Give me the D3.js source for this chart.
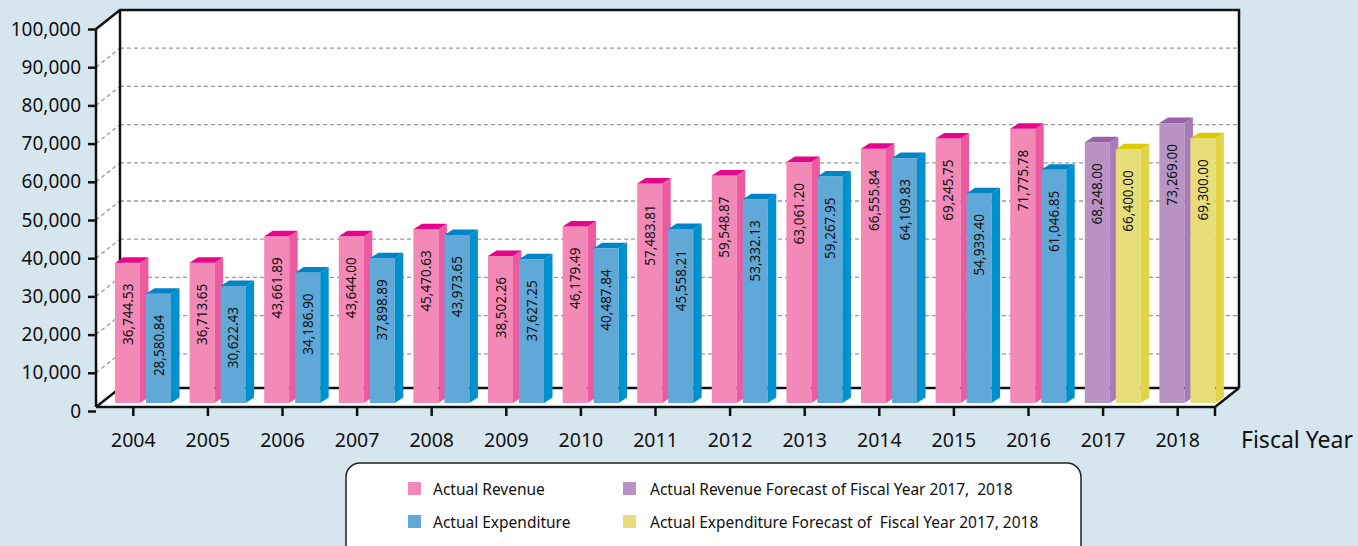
<!DOCTYPE html>
<html>
<head>
<meta charset="utf-8">
<script src="https://cdn.jsdelivr.net/npm/d3@7"></script>
<style>
  body { margin: 0; background: #d5e6ef; }
  svg text { font-family: "Noto Sans", sans-serif; fill: #111; }
</style>
</head>
<body>
<svg width="1358" height="546"></svg>
<script>
const years = ["2004", "2005", "2006", "2007", "2008", "2009", "2010", "2011",
  "2012", "2013", "2014", "2015", "2016", "2017", "2018"];
const revenue = [36744.53, 36713.65, 43661.89, 43644.00, 45470.63, 38502.26, 46179.49,
  57483.81, 59548.87, 63061.20, 66555.84, 69245.75, 71775.78, 68248.00, 73269.00];
const expenditure = [28580.84, 30622.43, 34186.90, 37898.89, 43973.65, 37627.25, 40487.84,
  45558.21, 53332.13, 59267.95, 64109.83, 54939.40, 61046.85, 66400.00, 69300.00];
const forecastYears = ["2017", "2018"];
const yTicks = [0, 10000, 20000, 30000, 40000, 50000, 60000, 70000, 80000, 90000, 100000];
const legendLabels = [
  "Actual Revenue",
  "Actual Expenditure",
  "Actual Revenue Forecast of Fiscal Year 2017,  2018",
  "Actual Expenditure Forecast of  Fiscal Year 2017, 2018"
];

// front face colour, side colour, top colour
const colors = {
  revenue: ["#f289b7", "#ec5a9f", "#e6058a"],
  expenditure: ["#60a8d8", "#0091cd", "#0084c6"],
  revForecast: ["#b893c4", "#a77bb8", "#9a62a7"],
  expForecast: ["#e8de79", "#e2d446", "#dccb00"]
};

const svg = d3.select("svg");

const left = 96, right = 1215;
const depthX = 24, depthY = -19;   // depth of the 3d box
const barW = 25, barDX = 8.5, barDY = -5.5, barLift = 8;

const x = d3.scaleBand().domain(years).range([left, right]);
const y = d3.scaleLinear().domain([0, 100000]).range([411, 29]);
const floorY = y(0) - 4;
const topY = y(100000);

// walls and floor
svg.append("polygon")
  .attr("points", [[left, topY], [left + depthX, topY + depthY], [left + depthX, floorY + depthY],
    [left, floorY]].join(" "))
  .attr("fill", "#fff");
svg.append("rect")
  .attr("x", left + depthX).attr("y", topY + depthY)
  .attr("width", right - left).attr("height", floorY - topY)
  .attr("fill", "#fff");
svg.append("polygon")
  .attr("points", [[left, floorY], [left + depthX, floorY + depthY], [right + depthX, floorY + depthY],
    [right, floorY]].join(" "))
  .attr("fill", "#fff");

// gridlines
const grid = svg.append("g")
  .attr("stroke", "#999")
  .attr("stroke-width", 1.3)
  .attr("stroke-dasharray", "4,3");
yTicks.filter(d => d > 0 && d < 100000).forEach(d => {
  grid.append("line")
    .attr("x1", left).attr("y1", y(d))
    .attr("x2", left + depthX).attr("y2", y(d) + depthY);
  grid.append("line")
    .attr("x1", left + depthX).attr("y1", y(d) + depthY)
    .attr("x2", right + depthX).attr("y2", y(d) + depthY);
});

// box outline
const frame = svg.append("g")
  .attr("stroke", "#111")
  .attr("stroke-width", 2.5)
  .attr("fill", "none");
frame.append("polyline")
  .attr("points", [[left, topY], [left + depthX, topY + depthY], [right + depthX, topY + depthY],
    [right + depthX, floorY + depthY]].join(" "));
frame.append("line")
  .attr("x1", left + depthX).attr("y1", topY + depthY)
  .attr("x2", left + depthX).attr("y2", floorY + depthY);
frame.append("polyline")
  .attr("points", [[left, floorY], [left + depthX, floorY + depthY], [right + depthX, floorY + depthY]].join(" "));

// bars
const bars = [];
years.forEach((yr, i) => {
  const fc = forecastYears.includes(yr);
  bars.push({ year: yr, value: revenue[i], dx: 19, col: fc ? colors.revForecast : colors.revenue });
  bars.push({ year: yr, value: expenditure[i], dx: 50, col: fc ? colors.expForecast : colors.expenditure });
});

const bar = svg.append("g")
  .selectAll("g")
  .data(bars)
  .join("g");

bar.each(function(d) {
  const g = d3.select(this);
  const x0 = x(d.year) + d.dx;
  const top = y(d.value) - barLift;
  const base = y(0) - barLift;
  g.append("rect")
    .attr("x", x0).attr("y", top)
    .attr("width", barW).attr("height", base - top)
    .attr("fill", d.col[0]);
  g.append("polygon")
    .attr("points", [[x0 + barW, top], [x0 + barW + barDX, top + barDY],
      [x0 + barW + barDX, base + barDY], [x0 + barW, base]].join(" "))
    .attr("fill", d.col[1]);
  g.append("polygon")
    .attr("points", [[x0, top], [x0 + barDX, top + barDY], [x0 + barW + barDX, top + barDY],
      [x0 + barW, top]].join(" "))
    .attr("fill", d.col[2]);
  g.append("text")
    .attr("transform", `translate(${x0 + barW / 2},${top + 21}) rotate(-90)`)
    .attr("text-anchor", "end")
    .attr("dominant-baseline", "central")
    .attr("font-size", "13.5px")
    .text(d3.format(",.2f")(d.value));
});

// front floor edge (drawn over the bar bases)
svg.append("polyline")
  .attr("points", [[left, floorY], [right, floorY], [right + depthX, floorY + depthY]].join(" "))
  .attr("stroke", "#111")
  .attr("stroke-width", 2.5)
  .attr("fill", "none");

// y axis
const yAxis = svg.append("g")
  .attr("transform", `translate(${left},0)`)
  .call(d3.axisLeft(y).tickValues(yTicks).tickFormat(d3.format(",")).tickSize(8).tickPadding(7));
yAxis.select(".domain").remove();
yAxis.selectAll(".tick line").attr("stroke", "#111").attr("stroke-width", 2.5);
yAxis.selectAll(".tick text").attr("font-size", "19px").attr("font-family", null);
svg.append("line")
  .attr("x1", left).attr("y1", topY)
  .attr("x2", left).attr("y2", floorY)
  .attr("stroke", "#111")
  .attr("stroke-width", 2.5);

// x axis ticks and labels
const xTicks = svg.append("g")
  .attr("stroke", "#111")
  .attr("stroke-width", 2.5);
years.forEach(yr => {
  const cx = x(yr) + x.bandwidth() / 2;
  xTicks.append("line")
    .attr("x1", cx).attr("y1", floorY)
    .attr("x2", cx).attr("y2", floorY + 9);
});
xTicks.append("line")
  .attr("x1", right).attr("y1", floorY)
  .attr("x2", right).attr("y2", floorY + 9);

svg.append("g")
  .selectAll("text")
  .data(years)
  .join("text")
  .attr("x", d => x(d) + x.bandwidth() / 2)
  .attr("y", 447)
  .attr("text-anchor", "middle")
  .attr("font-size", "19.5px")
  .text(d => d);

svg.append("text")
  .attr("x", 1241)
  .attr("y", 448)
  .attr("font-size", "23px")
  .text("Fiscal Year");

// legend
const legend = svg.append("g");
legend.append("rect")
  .attr("x", 346).attr("y", 463)
  .attr("width", 735).attr("height", 110)
  .attr("rx", 14)
  .attr("fill", "#fff")
  .attr("stroke", "#222")
  .attr("stroke-width", 1.5);

const legendItems = [
  { label: legendLabels[0], color: colors.revenue[0], lx: 408, ly: 482, tx: 433 },
  { label: legendLabels[1], color: colors.expenditure[0], lx: 408, ly: 515, tx: 433 },
  { label: legendLabels[2], color: colors.revForecast[0], lx: 623, ly: 482, tx: 650 },
  { label: legendLabels[3], color: colors.expForecast[0], lx: 623, ly: 515, tx: 650 }
];
const item = legend.selectAll("g.item")
  .data(legendItems)
  .join("g")
  .attr("class", "item");
item.append("rect")
  .attr("x", d => d.lx).attr("y", d => d.ly)
  .attr("width", 13).attr("height", 13)
  .attr("fill", d => d.color);
item.append("text")
  .attr("x", d => d.tx)
  .attr("y", d => d.ly + 7)
  .attr("dominant-baseline", "central")
  .attr("font-size", "15.5px")
  .style("white-space", "pre")
  .text(d => d.label);
</script>
</body>
</html>
